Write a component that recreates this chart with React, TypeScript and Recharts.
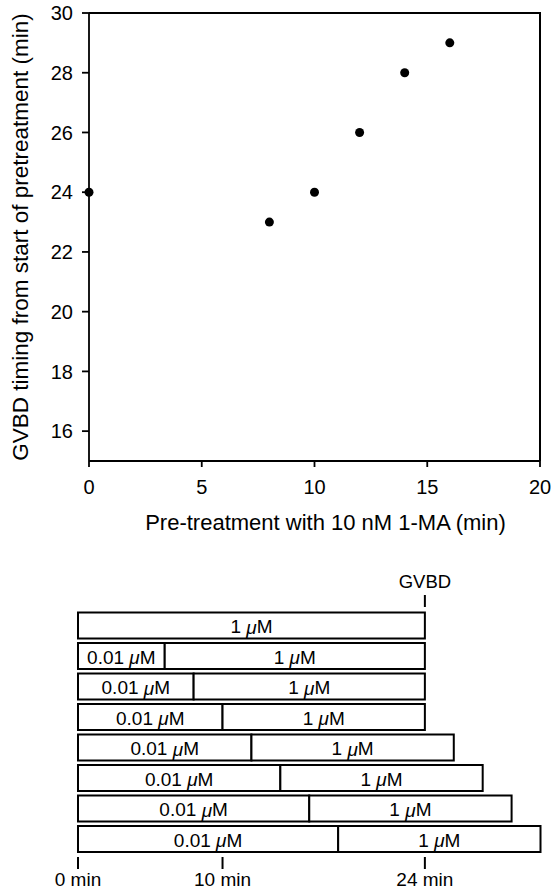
import {
  ComposedChart,
  Scatter,
  BarChart,
  Bar,
  LabelList,
  XAxis,
  YAxis,
  ReferenceLine,
} from 'recharts'

const FONT = '"Liberation Sans", Arial, Helvetica, sans-serif'
const INK = '#000'

// top panel: GVBD timing vs length of 1-MA pretreatment
const pretreatMin = [0, 8, 10, 12, 14, 16]
const gvbdMin = [24, 23, 24, 26, 28, 29]
const xTicks = [0, 5, 10, 15, 20]
const yTicks = [16, 18, 20, 22, 24, 26, 28, 30]
const xMax = 20
const yMin = 15
const yMax = 30

// bottom panel: treatment schedule (minutes in each dose)
const rowIds = ['r1', 'r2', 'r3', 'r4', 'r5', 'r6', 'r7', 'r8']
const lowDoseMin = [0, 6, 8, 10, 12, 14, 16, 18]
const highDoseMin = [24, 18, 16, 14, 14, 14, 14, 14]
const doseLabels = ['0.01', '1']
const timeTicks = [0, 10, 24]
const timeTickLabels = ['0 min', '10 min', '24 min']
const gvbdAt = 24

const scatterData = pretreatMin.map((x, i) => ({ x, y: gvbdMin[i] }))
const scheduleData = rowIds.map((row, i) => ({
  row,
  low: lowDoseMin[i],
  high: highDoseMin[i],
}))

// top panel layout
const W = 553
const TOP_H = 540
const TOP_MARGIN = { top: 13, right: 13, left: 0, bottom: 0 }
const Y_AXIS_W = 89
const X_AXIS_H = 79
const plotLeft = TOP_MARGIN.left + Y_AXIS_W
const plotTop = TOP_MARGIN.top
const plotRight = W - TOP_MARGIN.right
const plotBottom = TOP_H - TOP_MARGIN.bottom - X_AXIS_H

function Dot(props: any) {
  const { cx, cy } = props
  return <circle cx={cx} cy={cy} r={4.5} fill={INK} />
}

function DoseLabel(props: any) {
  const { x, y, width, height, dose } = props
  if (!width || width < 1) return null
  return (
    <text
      x={x + width / 2}
      y={y + height / 2 + 1}
      textAnchor="middle"
      dominantBaseline="central"
      fontSize={19}
      fontFamily={FONT}
      fill={INK}
    >
      {`${dose} `}
      <tspan fontStyle="italic">μ</tspan>M
    </text>
  )
}

function TimeTick(props: any) {
  const { x, y, payload } = props
  const label = timeTickLabels[timeTicks.indexOf(payload.value)]
  return (
    <g>
      <line x1={x} x2={x} y1={y + 3} y2={y + 15} stroke={INK} strokeWidth={2} />
      <text x={x} y={y + 32} textAnchor="middle" fontSize={19} fontFamily={FONT} fill={INK}>
        {label}
      </text>
    </g>
  )
}

// short marker above the schedule at the GVBD time
function GvbdMark(props: any) {
  const { x1, y1, y2 } = props
  const top = Math.min(y1, y2)
  return (
    <g>
      <line x1={x1} x2={x1} y1={top - 15} y2={top - 3} stroke={INK} strokeWidth={2} />
      <text x={x1} y={top - 22} textAnchor="middle" fontSize={18.5} fontFamily={FONT} fill={INK}>
        GVBD
      </text>
    </g>
  )
}

const axisStroke = { stroke: INK, strokeWidth: 1.8 }
const tickText = { fill: INK, fontSize: 20, fontFamily: FONT }

export default function App() {
  return (
    <div
      style={{
        position: 'absolute',
        left: 0,
        top: 0,
        width: W,
        height: 894,
        background: '#fff',
        fontFamily: FONT,
      }}
    >
      <ComposedChart width={W} height={TOP_H} data={scatterData} margin={TOP_MARGIN}>
        <XAxis
          type="number"
          dataKey="x"
          domain={[0, xMax]}
          ticks={xTicks}
          interval={0}
          height={X_AXIS_H}
          tickSize={6}
          tickMargin={13}
          axisLine={axisStroke}
          tickLine={axisStroke}
          tick={tickText}
          label={{
            value: 'Pre-treatment with 10 nM 1-MA (min)',
            position: 'insideBottom',
            offset: 10,
            dx: 11,
            fill: INK,
            fontSize: 22,
            fontFamily: FONT,
          }}
        />
        <YAxis
          type="number"
          domain={[yMin, yMax]}
          ticks={yTicks}
          interval={0}
          width={Y_AXIS_W}
          tickSize={7}
          tickMargin={9}
          axisLine={axisStroke}
          tickLine={axisStroke}
          tick={tickText}
          label={{
            value: 'GVBD timing from start of pretreatment (min)',
            angle: -90,
            position: 'insideLeft',
            offset: 20,
            fill: INK,
            fontSize: 22.5,
            fontFamily: FONT,
            style: { textAnchor: 'middle' },
          }}
        />
        <Scatter dataKey="y" shape={<Dot />} isAnimationActive={false} />
      </ComposedChart>

      {/* top and right edges of the plot box, following the chart's own margins */}
      <div
        style={{
          position: 'absolute',
          left: plotLeft,
          top: plotTop - 1,
          width: plotRight - plotLeft + 1,
          height: plotBottom - plotTop + 1,
          borderTop: `2px solid ${INK}`,
          borderRight: `2px solid ${INK}`,
          boxSizing: 'border-box',
          pointerEvents: 'none',
        }}
      />

      <BarChart
        width={W}
        height={354}
        layout="vertical"
        data={scheduleData}
        barCategoryGap={2.5}
        margin={{ top: 70, right: 12.5, left: 78, bottom: 10 }}
      >
        <XAxis
          type="number"
          domain={[0, 32]}
          ticks={timeTicks}
          interval={0}
          height={30}
          axisLine={false}
          tickLine={false}
          tickSize={0}
          tickMargin={0}
          tick={<TimeTick />}
        />
        <YAxis type="category" dataKey="row" hide />
        <Bar
          dataKey="low"
          stackId="t"
          fill="#fff"
          stroke={INK}
          strokeWidth={2}
          isAnimationActive={false}
        >
          <LabelList dataKey="low" content={(p: any) => <DoseLabel {...p} dose={doseLabels[0]} />} />
        </Bar>
        <Bar
          dataKey="high"
          stackId="t"
          fill="#fff"
          stroke={INK}
          strokeWidth={2}
          isAnimationActive={false}
        >
          <LabelList dataKey="high" content={(p: any) => <DoseLabel {...p} dose={doseLabels[1]} />} />
        </Bar>
        <ReferenceLine x={gvbdAt} ifOverflow="visible" shape={(p: any) => <GvbdMark {...p} />} />
      </BarChart>
    </div>
  )
}
